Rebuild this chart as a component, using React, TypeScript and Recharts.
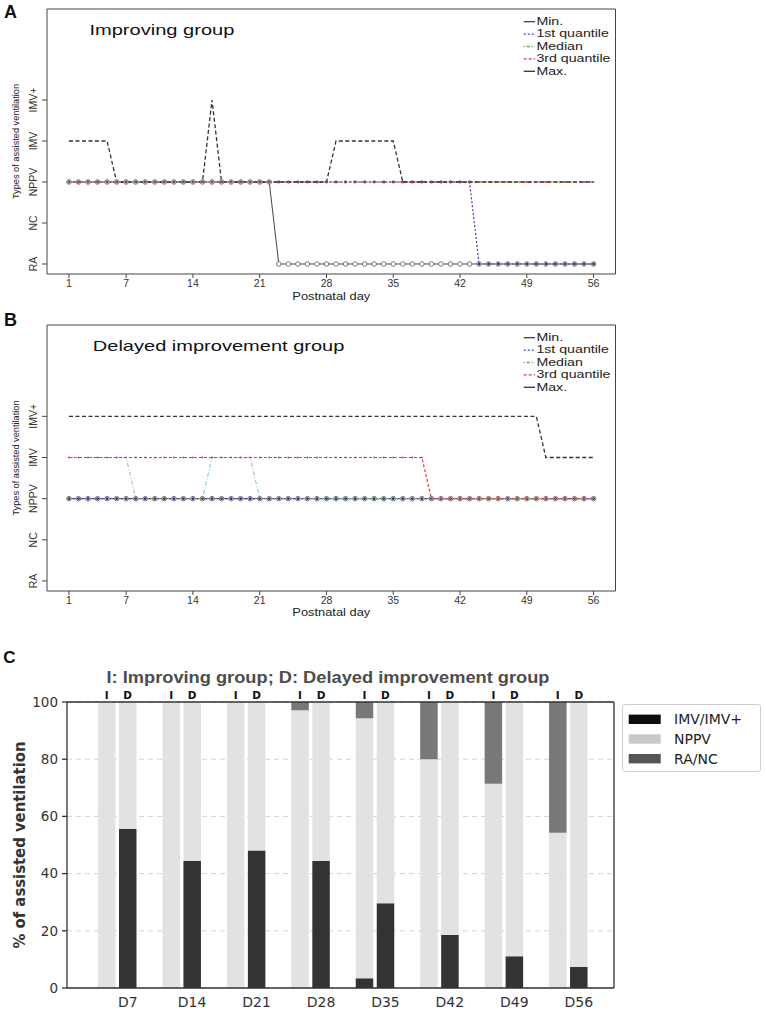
import React from 'react';
import { LineChart, Line, XAxis, YAxis, Legend, BarChart, Bar, CartesianGrid } from 'recharts';

// ---------- Data: panels A & B (ventilation level per postnatal day) ----------
// levels: 0 = RA, 1 = NC, 2 = NPPV, 3 = IMV, 4 = IMV+
const days = [1, 2, 3, 4, 5, 6, 7, 8, 9, 10, 11, 12, 13, 14, 15, 16, 17, 18, 19, 20, 21, 22, 23, 24, 25, 26, 27, 28, 29, 30, 31, 32, 33, 34, 35, 36, 37, 38, 39, 40, 41, 42, 43, 44, 45, 46, 47, 48, 49, 50, 51, 52, 53, 54, 55, 56];
const dayTicks = [1, 7, 14, 21, 28, 35, 42, 49, 56];
const levelTicks = [0, 1, 2, 3, 4];
const levelLabels = ['RA', 'NC', 'NPPV', 'IMV', 'IMV+'];
const seriesNames = ['Min.', '1st quantile', 'Median', '3rd quantile', 'Max.'];

const impMin = [
  2, 2, 2, 2, 2, 2, 2, 2, 2, 2,
  2, 2, 2, 2, 2, 2, 2, 2, 2, 2,
  2, 2, 0, 0, 0, 0, 0, 0, 0, 0,
  0, 0, 0, 0, 0, 0, 0, 0, 0, 0,
  0, 0, 0, 0, 0, 0, 0, 0, 0, 0,
  0, 0, 0, 0, 0, 0];
const impQ1 = [
  2, 2, 2, 2, 2, 2, 2, 2, 2, 2,
  2, 2, 2, 2, 2, 2, 2, 2, 2, 2,
  2, 2, 2, 2, 2, 2, 2, 2, 2, 2,
  2, 2, 2, 2, 2, 2, 2, 2, 2, 2,
  2, 2, 2, 0, 0, 0, 0, 0, 0, 0,
  0, 0, 0, 0, 0, 0];
const impMedian = [
  2, 2, 2, 2, 2, 2, 2, 2, 2, 2,
  2, 2, 2, 2, 2, 2, 2, 2, 2, 2,
  2, 2, 2, 2, 2, 2, 2, 2, 2, 2,
  2, 2, 2, 2, 2, 2, 2, 2, 2, 2,
  2, 2, 2, 2, 2, 2, 2, 2, 2, 2,
  2, 2, 2, 2, 2, 2];
const impQ3 = [
  2, 2, 2, 2, 2, 2, 2, 2, 2, 2,
  2, 2, 2, 2, 2, 2, 2, 2, 2, 2,
  2, 2, 2, 2, 2, 2, 2, 2, 2, 2,
  2, 2, 2, 2, 2, 2, 2, 2, 2, 2,
  2, 2, 2, 2, 2, 2, 2, 2, 2, 2,
  2, 2, 2, 2, 2, 2];
const impMax = [
  3, 3, 3, 3, 3, 2, 2, 2, 2, 2,
  2, 2, 2, 2, 2, 4, 2, 2, 2, 2,
  2, 2, 2, 2, 2, 2, 2, 2, 3, 3,
  3, 3, 3, 3, 3, 2, 2, 2, 2, 2,
  2, 2, 2, 2, 2, 2, 2, 2, 2, 2,
  2, 2, 2, 2, 2, 2];

const delMin = [
  2, 2, 2, 2, 2, 2, 2, 2, 2, 2,
  2, 2, 2, 2, 2, 2, 2, 2, 2, 2,
  2, 2, 2, 2, 2, 2, 2, 2, 2, 2,
  2, 2, 2, 2, 2, 2, 2, 2, 2, 2,
  2, 2, 2, 2, 2, 2, 2, 2, 2, 2,
  2, 2, 2, 2, 2, 2];
const delQ1 = [
  2, 2, 2, 2, 2, 2, 2, 2, 2, 2,
  2, 2, 2, 2, 2, 2, 2, 2, 2, 2,
  2, 2, 2, 2, 2, 2, 2, 2, 2, 2,
  2, 2, 2, 2, 2, 2, 2, 2, 2, 2,
  2, 2, 2, 2, 2, 2, 2, 2, 2, 2,
  2, 2, 2, 2, 2, 2];
const delMedian = [
  3, 3, 3, 3, 3, 3, 3, 2, 2, 2,
  2, 2, 2, 2, 2, 3, 3, 3, 3, 3,
  2, 2, 2, 2, 2, 2, 2, 2, 2, 2,
  2, 2, 2, 2, 2, 2, 2, 2, 2, 2,
  2, 2, 2, 2, 2, 2, 2, 2, 2, 2,
  2, 2, 2, 2, 2, 2];
const delQ3 = [
  3, 3, 3, 3, 3, 3, 3, 3, 3, 3,
  3, 3, 3, 3, 3, 3, 3, 3, 3, 3,
  3, 3, 3, 3, 3, 3, 3, 3, 3, 3,
  3, 3, 3, 3, 3, 3, 3, 3, 2, 2,
  2, 2, 2, 2, 2, 2, 2, 2, 2, 2,
  2, 2, 2, 2, 2, 2];
const delMax = [
  4, 4, 4, 4, 4, 4, 4, 4, 4, 4,
  4, 4, 4, 4, 4, 4, 4, 4, 4, 4,
  4, 4, 4, 4, 4, 4, 4, 4, 4, 4,
  4, 4, 4, 4, 4, 4, 4, 4, 4, 4,
  4, 4, 4, 4, 4, 4, 4, 4, 4, 4,
  3, 3, 3, 3, 3, 3];

// ---------- Data: panel C (% of assisted ventilation) ----------
const weekCats = ['D7', 'D14', 'D21', 'D28', 'D35', 'D42', 'D49', 'D56'];
const impIMV = [0, 0, 0, 0, 3.4, 0, 0, 0];
const impNPPV = [100, 100, 100, 97.1, 90.9, 80, 71.4, 54.3];
const impRANC = [0, 0, 0, 2.9, 5.7, 20, 28.6, 45.7];
const delIMV = [55.6, 44.4, 48.1, 44.4, 29.6, 18.5, 11.1, 7.4];
const delNPPV = [44.4, 55.6, 51.9, 55.6, 70.4, 81.5, 88.9, 92.6];
const delRANC = [0, 0, 0, 0, 0, 0, 0, 0];
const barLegendNames = ['IMV/IMV+', 'NPPV', 'RA/NC'];
const pctTicks = [0, 20, 40, 60, 80, 100];

// ---------- Styles ----------
const FONT_A = "'Liberation Sans', Arial, sans-serif";
const FONT_C = "'DejaVu Sans', sans-serif";
const X_DOMAIN: [number, number] = [-1.3, 58.3];
const Y_DOMAIN: [number, number] = [-0.244, 6.22];

const lineStyles = [
  { key: 'min', stroke: '#444', width: 1, dash: undefined as any, legendDash: undefined as any },
  { key: 'q1', stroke: '#3a3ad8', width: 1.2, dash: '2 2', legendDash: '2 2' },
  { key: 'median', stroke: '#88c888', width: 1, dash: '4 2 1 2', legendDash: '1 2 3 2' },
  { key: 'q3', stroke: '#e03c3c', width: 1.2, dash: '3 2', legendDash: '3 2' },
  { key: 'max', stroke: '#333', width: 1.3, dash: '4 2.5', legendDash: undefined as any },
];

const barFills = ['#333333', '#e2e2e2', '#787878'];
const barLegendFills = ['#0c0c0c', '#c9c9c9', '#555555'];

function buildLineRows(mn: number[], q1: number[], md: number[], q3: number[], mx: number[]) {
  return days.map((d, i) => ({ day: d, min: mn[i], q1: q1[i], median: md[i], q3: q3[i], max: mx[i] }));
}

const rowsA = buildLineRows(impMin, impQ1, impMedian, impQ3, impMax);
const rowsB = buildLineRows(delMin, delQ1, delMedian, delQ3, delMax);

const rowsC = weekCats.map((c, i) => ({
  cat: c,
  iIMV: impIMV[i], iNPPV: impNPPV[i], iRA: impRANC[i],
  dIMV: delIMV[i], dNPPV: delNPPV[i], dRA: delRANC[i],
}));

function LevelTick(props: any) {
  const { y, payload } = props;
  const cx = 33;
  return (
    <text x={cx} y={y} transform={`rotate(-90 ${cx} ${y})`} textAnchor="middle" dominantBaseline="central"
      fontFamily={FONT_A} fontSize={10.5} fill="#333">
      {levelLabels[payload.value]}
    </text>
  );
}

function LineLegendContent() {
  return (
    <svg width={100} height={70} style={{ overflow: 'visible' }}>
      {seriesNames.map((n, i) => {
        const yy = 7.7 + 12.4 * i;
        const st = lineStyles[i];
        return (
          <g key={n}>
            <line x1={3.7} x2={15} y1={yy} y2={yy} stroke={i === 2 ? '#55aa55' : st.stroke} strokeWidth={1.3} strokeDasharray={st.legendDash} />
            <g transform={`translate(16.4 ${yy}) scale(1.35 1)`}>
              <text x={0} y={0} dominantBaseline="central" fontFamily={FONT_A} fontSize={10.5} fill="#222">{n}</text>
            </g>
          </g>
        );
      })}
    </svg>
  );
}

function LinePanel({ rows, top, height, marginTop, legendTop, plotMid }: any) {
  return (
    <div style={{ position: 'absolute', left: 0, top, width: 640, height }}>
      <LineChart width={640} height={height} data={rows} margin={{ top: marginTop, right: 23.5, bottom: 6, left: 0 }}>
        <XAxis dataKey="day" type="number" domain={X_DOMAIN} allowDataOverflow ticks={dayTicks} interval={0}
          height={26} tickSize={4} tickMargin={2} stroke="#444"
          tick={{ fontFamily: FONT_A, fontSize: 10.5, fill: '#333' }}
          label={{
            value: 'Postnatal day',
            content: () => (
              <text x={331.3} y={marginTop + 1 + 266 + 24.5} textAnchor="middle" fontFamily={FONT_A} fontSize={11}
                fill="#222" textLength={78} lengthAdjust="spacingAndGlyphs">Postnatal day</text>
            ),
          }} />
        <XAxis xAxisId="top" orientation="top" type="number" domain={X_DOMAIN} allowDataOverflow
          tick={false} tickLine={false} height={1} stroke="#444" />
        <YAxis type="number" domain={Y_DOMAIN} allowDataOverflow ticks={levelTicks} interval={0}
          width={47} tickSize={5} tickMargin={2} stroke="#444" tick={<LevelTick />}
          label={{
            value: 'Types of assisted ventilation',
            content: () => (
              <text x={15.6} y={plotMid} transform={`rotate(-90 15.6 ${plotMid})`} textAnchor="middle"
                dominantBaseline="central" fontFamily={FONT_A} fontSize={9.4} fill="#222"
                textLength={115} lengthAdjust="spacingAndGlyphs">Types of assisted ventilation</text>
            ),
          }} />
        <YAxis yAxisId="right" orientation="right" type="number" domain={Y_DOMAIN} allowDataOverflow
          tick={false} tickLine={false} width={1} stroke="#444" />
        <Line type="linear" dataKey="min" name={seriesNames[0]} stroke={lineStyles[0].stroke} strokeWidth={lineStyles[0].width}
          dot={{ r: 2.3, stroke: '#777', strokeWidth: 1, fill: '#fff' }} activeDot={false} isAnimationActive={false} />
        <Line type="linear" dataKey="q1" name={seriesNames[1]} stroke={lineStyles[1].stroke} strokeWidth={lineStyles[1].width}
          strokeDasharray={lineStyles[1].dash} dot={{ r: 1.4, stroke: 'none', fill: '#2b2b6b' }} activeDot={false} isAnimationActive={false} />
        <Line type="linear" dataKey="median" name={seriesNames[2]} stroke={lineStyles[2].stroke} strokeWidth={lineStyles[2].width}
          strokeDasharray={lineStyles[2].dash} dot={false} activeDot={false} isAnimationActive={false} />
        <Line type="linear" dataKey="q3" name={seriesNames[3]} stroke={lineStyles[3].stroke} strokeWidth={lineStyles[3].width}
          strokeDasharray={lineStyles[3].dash} dot={{ r: 0.9, stroke: 'none', fill: '#e03c3c' }} activeDot={false} isAnimationActive={false} />
        <Line type="linear" dataKey="max" name={seriesNames[4]} stroke={lineStyles[4].stroke} strokeWidth={lineStyles[4].width}
          strokeDasharray={lineStyles[4].dash} dot={false} activeDot={false} isAnimationActive={false} />
        <Legend content={<LineLegendContent />} layout="horizontal" verticalAlign="middle" align="center"
          wrapperStyle={{ position: 'absolute', left: 520, top: legendTop, width: 100, height: 70, margin: 0, padding: 0 }} />
      </LineChart>
    </div>
  );
}

function PairTick(props: any) {
  const { x } = props;
  return (
    <g>
      <text x={x - 10.5} y={69.3} textAnchor="middle" fontFamily={FONT_C} fontWeight="bold" fontSize={10.5} fill="#111">I</text>
      <text x={x + 10.5} y={69.3} textAnchor="middle" fontFamily={FONT_C} fontWeight="bold" fontSize={10.5} fill="#111">D</text>
    </g>
  );
}

function CatTick(props: any) {
  const { x, payload } = props;
  return (
    <text x={x + 10.5} y={376.8} textAnchor="middle" fontFamily={FONT_C} fontSize={14} fill="#333">{payload.value}</text>
  );
}

function BarLegendContent() {
  return (
    <div style={{ width: 139, height: 68, border: '1px solid #cfcfcf', borderRadius: 3, boxSizing: 'border-box', background: '#fff' }}>
      <svg width={137} height={66} style={{ display: 'block' }}>
        {barLegendNames.map((n, i) => {
          const yy = 14.3 + 19.7 * i;
          return (
            <g key={n}>
              <rect x={5.7} y={yy - 4.7} width={32} height={9.4} fill={barLegendFills[i]} />
              <text x={51} y={yy} dominantBaseline="central" fontFamily={FONT_C} fontSize={14} fill="#222">{n}</text>
            </g>
          );
        })}
      </svg>
    </div>
  );
}

function BarPanel() {
  return (
    <div style={{ position: 'absolute', left: 0, top: 630, width: 766, height: 385 }}>
      <BarChart width={766} height={385} data={rowsC} margin={{ top: 71, right: 151, bottom: 0, left: 0 }}
        barSize={17.5} barGap={3.5}>
        <CartesianGrid vertical={false} stroke="#d4d4d4" strokeDasharray="5 4" />
        <XAxis dataKey="cat" padding={{ left: 18, right: 13.5 }} height={27} tickLine={false}
          stroke="#333" strokeWidth={1.3} tick={<CatTick />} interval={0} />
        <XAxis xAxisId="top" orientation="top" dataKey="cat" padding={{ left: 18, right: 13.5 }} height={1}
          tickLine={false} stroke="#333" strokeWidth={1.3} tick={<PairTick />} interval={0} />
        <YAxis type="number" domain={[0, 100]} ticks={pctTicks} interval={0} width={67} tickSize={5} tickMargin={4}
          stroke="#333" strokeWidth={1.3} tick={{ fontFamily: FONT_C, fontSize: 13.5, fill: '#333' }}
          label={{
            value: '% of assisted ventilation',
            content: () => (
              <text x={19.5} y={215} transform="rotate(-90 19.5 215)" textAnchor="middle" dominantBaseline="central"
                fontFamily={FONT_C} fontWeight="bold" fontSize={15} fill="#333"
                textLength={207} lengthAdjust="spacingAndGlyphs">% of assisted ventilation</text>
            ),
          }} />
        <YAxis yAxisId="right" orientation="right" type="number" domain={[0, 100]} tick={false} tickLine={false}
          width={1} stroke="#333" strokeWidth={1.3} />
        <Bar dataKey="iIMV" stackId="I" name={barLegendNames[0]} fill={barFills[0]} isAnimationActive={false} />
        <Bar dataKey="iNPPV" stackId="I" name={barLegendNames[1]} fill={barFills[1]} isAnimationActive={false} />
        <Bar dataKey="iRA" stackId="I" name={barLegendNames[2]} fill={barFills[2]} isAnimationActive={false} />
        <Bar dataKey="dIMV" stackId="D" legendType="none" fill={barFills[0]} isAnimationActive={false} />
        <Bar dataKey="dNPPV" stackId="D" legendType="none" fill={barFills[1]} isAnimationActive={false} />
        <Bar dataKey="dRA" stackId="D" legendType="none" fill={barFills[2]} isAnimationActive={false} />
        <Legend content={<BarLegendContent />} layout="horizontal" verticalAlign="middle" align="center"
          wrapperStyle={{ position: 'absolute', left: 622, top: 74, width: 139, height: 68, margin: 0, padding: 0 }} />
      </BarChart>
    </div>
  );
}

export default function App() {
  return (
    <div style={{ position: 'absolute', left: 0, top: 0, width: 766, height: 1015, background: '#fff', overflow: 'hidden' }}>
      <LinePanel rows={rowsA} top={0} height={306} marginTop={8} legendTop={14} plotMid={141.5} />
      <LinePanel rows={rowsB} top={300} height={323} marginTop={24} legendTop={30} plotMid={158} />
      <BarPanel />
      <svg width={766} height={1015} style={{ position: 'absolute', left: 0, top: 0, pointerEvents: 'none' }}>
        <text x={4} y={18.3} fontFamily={FONT_A} fontWeight="bold" fontSize={18} fill="#111">A</text>
        <text x={89.4} y={34.7} fontFamily={FONT_A} fontSize={15} fill="#111" textLength={145} lengthAdjust="spacingAndGlyphs">Improving group</text>
        <text x={4} y={325.7} fontFamily={FONT_A} fontWeight="bold" fontSize={18} fill="#111">B</text>
        <text x={92.8} y={350.7} fontFamily={FONT_A} fontSize={15} fill="#111" textLength={251.6} lengthAdjust="spacingAndGlyphs">Delayed improvement group</text>
        <text x={3.3} y={662.7} fontFamily={FONT_A} fontWeight="bold" fontSize={17} fill="#111">C</text>
        <text x={106.5} y={682.7} fontFamily={FONT_A} fontWeight="bold" fontSize={17} fill="#4d4d4d" textLength={443} lengthAdjust="spacingAndGlyphs">I: Improving group; D: Delayed improvement group</text>
      </svg>
    </div>
  );
}
